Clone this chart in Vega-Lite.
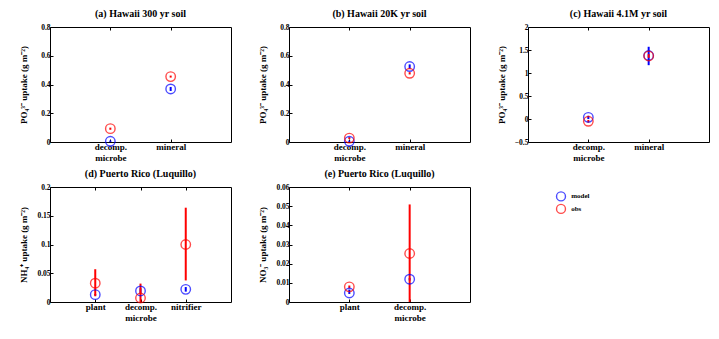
{
  "$schema": "https://vega.github.io/schema/vega-lite/v6.json",
  "background": "white",
  "padding": {"left": 18, "top": 8, "right": 4, "bottom": 4},
  "columns": 3,
  "spacing": {"row": 5, "column": 25},
  "config": {
    "font": "Liberation Serif",
    "view": {"stroke": "black", "strokeWidth": 1},
    "title": {"fontSize": 10, "fontWeight": "bold", "offset": 4, "color": "black"},
    "axis": {"grid": false, "domain": false, "labelFont": "Liberation Serif", "titleFont": "Liberation Serif", "labelFontWeight": "bold", "titleFontWeight": "bold", "labelColor": "black", "titleColor": "black", "tickColor": "black", "tickSize": -3, "labelPadding": 3, "labelOverlap": false, "format": "~g"},
    "axisY": {"labelFontSize": 7.5, "titleFontSize": 9, "titlePadding": 2, "minExtent": 20, "maxExtent": 20},
    "axisX": {"labelFontSize": 9, "labelLineHeight": 11, "title": null},
    "point": {"shape": "circle", "filled": false, "size": 90, "strokeWidth": 1.4},
    "rule": {"strokeWidth": 2}
  },
  "concat": [
    {
      "title": "(a) Hawaii 300 yr soil",
      "width": 181, "height": 115,
      "data": {"values": [
        {"x": 1, "series": "model", "y": 0.005, "lo": 0.0, "hi": 0.01},
        {"x": 1, "series": "obs", "y": 0.093, "lo": 0.085, "hi": 0.1},
        {"x": 2, "series": "model", "y": 0.369, "lo": 0.355, "hi": 0.383},
        {"x": 2, "series": "obs", "y": 0.455, "lo": 0.448, "hi": 0.462}
      ]},
      "encoding": {
        "color": {"field": "series", "type": "nominal", "scale": {"domain": ["model", "obs"], "range": ["#0000ff", "#ff0000"]}, "legend": null}
      },
      "resolve": {"axis": {"x": "independent"}},
      "layer": [
        {"mark": "rule", "encoding": {
          "x": {"field": "x", "type": "quantitative", "scale": {"domain": [0, 3], "nice": false}, "axis": {"values": [1, 2], "labelExpr": "datum.value == 1 ? ['decomp.', 'microbe'] : 'mineral'"}},
          "y": {"field": "lo", "type": "quantitative", "scale": {"domain": [0, 0.8], "nice": false}, "axis": {"values": [0, 0.2, 0.4, 0.6, 0.8], "title": "PO₄³⁻ uptake (g m⁻²)"}}, "y2": {"field": "hi"}}},
        {"mark": "point", "encoding": {
          "x": {"field": "x", "type": "quantitative", "scale": {"domain": [0, 3], "nice": false}, "axis": {"orient": "top", "values": [1, 2], "labels": false}},
          "y": {"field": "y", "type": "quantitative", "scale": {"domain": [0, 0.8], "nice": false}, "axis": {"values": [0, 0.2, 0.4, 0.6, 0.8], "title": "PO₄³⁻ uptake (g m⁻²)"}}}}
      ]
    },
    {
      "title": "(b) Hawaii 20K yr soil",
      "width": 181, "height": 115,
      "data": {"values": [
        {"x": 1, "series": "model", "y": 0.005, "lo": 0.0, "hi": 0.01},
        {"x": 1, "series": "obs", "y": 0.027, "lo": 0.02, "hi": 0.034},
        {"x": 2, "series": "model", "y": 0.525, "lo": 0.51, "hi": 0.54},
        {"x": 2, "series": "obs", "y": 0.478, "lo": 0.47, "hi": 0.486}
      ]},
      "encoding": {
        "color": {"field": "series", "type": "nominal", "scale": {"domain": ["model", "obs"], "range": ["#0000ff", "#ff0000"]}, "legend": null}
      },
      "resolve": {"axis": {"x": "independent"}},
      "layer": [
        {"mark": "rule", "encoding": {
          "x": {"field": "x", "type": "quantitative", "scale": {"domain": [0, 3], "nice": false}, "axis": {"values": [1, 2], "labelExpr": "datum.value == 1 ? ['decomp.', 'microbe'] : 'mineral'"}},
          "y": {"field": "lo", "type": "quantitative", "scale": {"domain": [0, 0.8], "nice": false}, "axis": {"values": [0, 0.2, 0.4, 0.6, 0.8], "title": "PO₄³⁻ uptake (g m⁻²)"}}, "y2": {"field": "hi"}}},
        {"mark": "point", "encoding": {
          "x": {"field": "x", "type": "quantitative", "scale": {"domain": [0, 3], "nice": false}, "axis": {"orient": "top", "values": [1, 2], "labels": false}},
          "y": {"field": "y", "type": "quantitative", "scale": {"domain": [0, 0.8], "nice": false}, "axis": {"values": [0, 0.2, 0.4, 0.6, 0.8], "title": "PO₄³⁻ uptake (g m⁻²)"}}}}
      ]
    },
    {
      "title": "(c) Hawaii 4.1M yr soil",
      "width": 181, "height": 115,
      "data": {"values": [
        {"x": 1, "series": "model", "y": 0.036, "lo": 0.0, "hi": 0.07},
        {"x": 1, "series": "obs", "y": -0.05, "lo": -0.08, "hi": -0.02},
        {"x": 2, "series": "model", "y": 1.38, "lo": 1.17, "hi": 1.57},
        {"x": 2, "series": "obs", "y": 1.37, "lo": 1.33, "hi": 1.41}
      ]},
      "encoding": {
        "color": {"field": "series", "type": "nominal", "scale": {"domain": ["model", "obs"], "range": ["#0000ff", "#ff0000"]}, "legend": null}
      },
      "resolve": {"axis": {"x": "independent"}},
      "layer": [
        {"mark": "rule", "encoding": {
          "x": {"field": "x", "type": "quantitative", "scale": {"domain": [0, 3], "nice": false}, "axis": {"values": [1, 2], "labelExpr": "datum.value == 1 ? ['decomp.', 'microbe'] : 'mineral'"}},
          "y": {"field": "lo", "type": "quantitative", "scale": {"domain": [-0.5, 2], "nice": false}, "axis": {"values": [-0.5, 0, 0.5, 1, 1.5, 2], "title": "PO₄³⁻ uptake (g m⁻²)"}}, "y2": {"field": "hi"}}},
        {"mark": "point", "encoding": {
          "x": {"field": "x", "type": "quantitative", "scale": {"domain": [0, 3], "nice": false}, "axis": {"orient": "top", "values": [1, 2], "labels": false}},
          "y": {"field": "y", "type": "quantitative", "scale": {"domain": [-0.5, 2], "nice": false}, "axis": {"values": [-0.5, 0, 0.5, 1, 1.5, 2], "title": "PO₄³⁻ uptake (g m⁻²)"}}}}
      ]
    },
    {
      "title": "(d) Puerto Rico (Luquillo)",
      "width": 181, "height": 115,
      "data": {"values": [
        {"x": 1, "series": "model", "y": 0.0128, "lo": 0.0115, "hi": 0.014},
        {"x": 1, "series": "obs", "y": 0.0327, "lo": 0.01, "hi": 0.057},
        {"x": 2, "series": "model", "y": 0.0192, "lo": 0.015, "hi": 0.024},
        {"x": 2, "series": "obs", "y": 0.007, "lo": 0.0, "hi": 0.032},
        {"x": 3, "series": "model", "y": 0.022, "lo": 0.018, "hi": 0.026},
        {"x": 3, "series": "obs", "y": 0.1, "lo": 0.0375, "hi": 0.164}
      ]},
      "encoding": {
        "color": {"field": "series", "type": "nominal", "scale": {"domain": ["model", "obs"], "range": ["#0000ff", "#ff0000"]}, "legend": null}
      },
      "resolve": {"axis": {"x": "independent"}},
      "layer": [
        {"mark": "rule", "encoding": {
          "x": {"field": "x", "type": "quantitative", "scale": {"domain": [0, 4], "nice": false}, "axis": {"values": [1, 2, 3], "labelExpr": "datum.value == 1 ? 'plant' : datum.value == 2 ? ['decomp.', 'microbe'] : 'nitrifier'"}},
          "y": {"field": "lo", "type": "quantitative", "scale": {"domain": [0, 0.2], "nice": false}, "axis": {"values": [0, 0.05, 0.1, 0.15, 0.2], "title": "NH₄⁺ uptake (g m⁻²)"}}, "y2": {"field": "hi"}}},
        {"mark": "point", "encoding": {
          "x": {"field": "x", "type": "quantitative", "scale": {"domain": [0, 4], "nice": false}, "axis": {"orient": "top", "values": [1, 2, 3], "labels": false}},
          "y": {"field": "y", "type": "quantitative", "scale": {"domain": [0, 0.2], "nice": false}, "axis": {"values": [0, 0.05, 0.1, 0.15, 0.2], "title": "NH₄⁺ uptake (g m⁻²)"}}}}
      ]
    },
    {
      "title": "(e) Puerto Rico (Luquillo)",
      "width": 181, "height": 115,
      "data": {"values": [
        {"x": 1, "series": "model", "y": 0.0047, "lo": 0.0042, "hi": 0.0065},
        {"x": 1, "series": "obs", "y": 0.0079, "lo": 0.0072, "hi": 0.0086},
        {"x": 2, "series": "model", "y": 0.0119, "lo": 0.0112, "hi": 0.0126},
        {"x": 2, "series": "obs", "y": 0.0253, "lo": 0.0, "hi": 0.0509}
      ]},
      "encoding": {
        "color": {"field": "series", "type": "nominal", "scale": {"domain": ["model", "obs"], "range": ["#0000ff", "#ff0000"]}, "legend": null}
      },
      "resolve": {"axis": {"x": "independent"}},
      "layer": [
        {"mark": "rule", "encoding": {
          "x": {"field": "x", "type": "quantitative", "scale": {"domain": [0, 3], "nice": false}, "axis": {"values": [1, 2], "labelExpr": "datum.value == 1 ? 'plant' : ['decomp.', 'microbe']"}},
          "y": {"field": "lo", "type": "quantitative", "scale": {"domain": [0, 0.06], "nice": false}, "axis": {"values": [0, 0.01, 0.02, 0.03, 0.04, 0.05, 0.06], "title": "NO₃⁻ uptake (g m⁻²)"}}, "y2": {"field": "hi"}}},
        {"mark": "point", "encoding": {
          "x": {"field": "x", "type": "quantitative", "scale": {"domain": [0, 3], "nice": false}, "axis": {"orient": "top", "values": [1, 2], "labels": false}},
          "y": {"field": "y", "type": "quantitative", "scale": {"domain": [0, 0.06], "nice": false}, "axis": {"values": [0, 0.01, 0.02, 0.03, 0.04, 0.05, 0.06], "title": "NO₃⁻ uptake (g m⁻²)"}}}}
      ]
    },
    {
      "width": 60, "height": 50,
      "view": {"stroke": null},
      "data": {"values": [
        {"series": "model", "pos": 0, "lx": 0.55, "tx": 0.72},
        {"series": "obs", "pos": 1, "lx": 0.55, "tx": 0.72}
      ]},
      "encoding": {
        "y": {"field": "pos", "type": "quantitative", "scale": {"domain": [-0.75, 3.25], "reverse": true, "nice": false, "zero": false}, "axis": null}
      },
      "layer": [
        {"mark": {"type": "point", "size": 80}, "encoding": {"x": {"field": "lx", "type": "quantitative", "scale": {"domain": [0, 1], "nice": false}, "axis": null}, "color": {"field": "series", "type": "nominal", "scale": {"domain": ["model", "obs"], "range": ["#0000ff", "#ff0000"]}, "legend": null}}},
        {"mark": {"type": "text", "align": "left", "fontSize": 7, "fontWeight": "bold", "font": "Liberation Serif"}, "encoding": {"x": {"field": "tx", "type": "quantitative", "scale": {"domain": [0, 1], "nice": false}}, "text": {"field": "series"}}}
      ]
    }
  ]
}
